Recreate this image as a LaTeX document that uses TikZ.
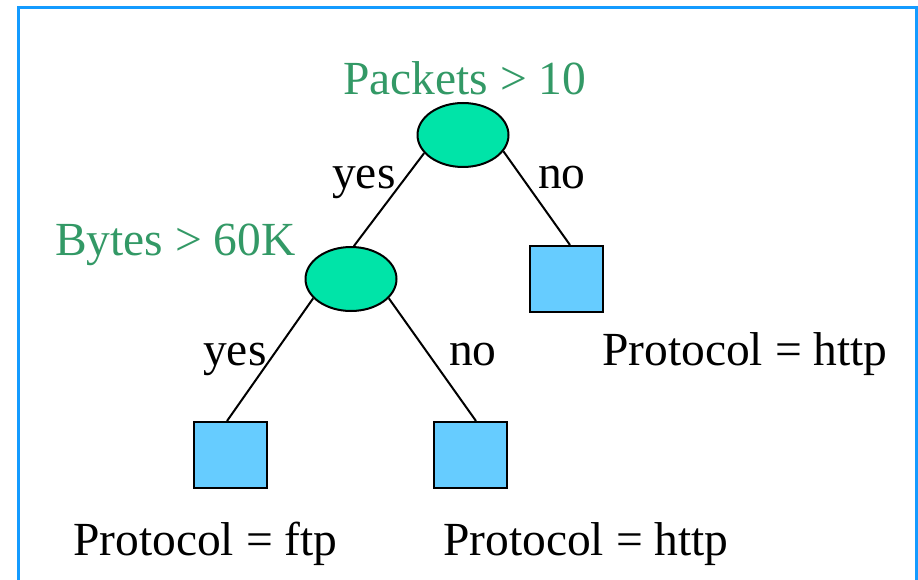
\documentclass[tikz,border=0pt]{standalone}
\usepackage{fontspec}
\setmainfont{Liberation Serif}
\usetikzlibrary{shapes.geometric}
\definecolor{frameblue}{RGB}{20,155,255}
\definecolor{testgreen}{RGB}{51,153,102}
\definecolor{ellfill}{RGB}{0,228,168}
\definecolor{leaffill}{RGB}{102,204,255}
\begin{document}
\begin{tikzpicture}[x=1pt,y=-1pt,
  testnode/.style={ellipse,draw=black,line width=2pt,fill=ellfill,minimum width=91pt,minimum height=64pt,inner sep=0pt},
  leafnode/.style={rectangle,draw=black,line width=2pt,fill=leaffill,minimum width=73pt,minimum height=66pt,inner sep=0pt},
  txt/.style={inner sep=0pt,anchor=base west,font=\fontsize{47.5}{57}\selectfont},
  gtxt/.style={txt,text=testgreen},
  edge/.style={draw=black,line width=2pt}]
\useasboundingbox (0,0) rectangle (918,580);
\draw[frameblue,line width=3pt] (18.5,582) -- (18.5,7.5) -- (916.5,7.5) -- (916.5,582);
\node[testnode] (e1) at (463,135) {};
\node[testnode] (e2) at (351,279) {};
\node[leafnode] (s1) at (566.5,279) {};
\node[leafnode] (s2) at (230,455) {};
\node[leafnode] (s3) at (470,455) {};
\draw[edge] (e1.205) -- (e2.85);
\draw[edge] (e1.338) -- ([xshift=3.5pt]s1.north);
\draw[edge] (e2.207) -- ([xshift=-3pt]s2.north);
\draw[edge] (e2.333) -- ([xshift=6pt]s3.north);
\node[gtxt] (t1) at (343,95) {Packets > 10};
\node[gtxt] (t2) at (55,255) {Bytes > 60K};
\node[txt] (y1) at (332,189) {yes};
\node[txt] (n1) at (538,189) {no};
\node[txt] (y2) at (203,365) {yes};
\node[txt] (n2) at (449,365) {no};
\node[txt] (p1) at (602,365) {Protocol = http};
\node[txt] (p2) at (73,555) {Protocol = ftp};
\node[txt] (p3) at (443,555) {Protocol = http};
\end{tikzpicture}
\end{document}
